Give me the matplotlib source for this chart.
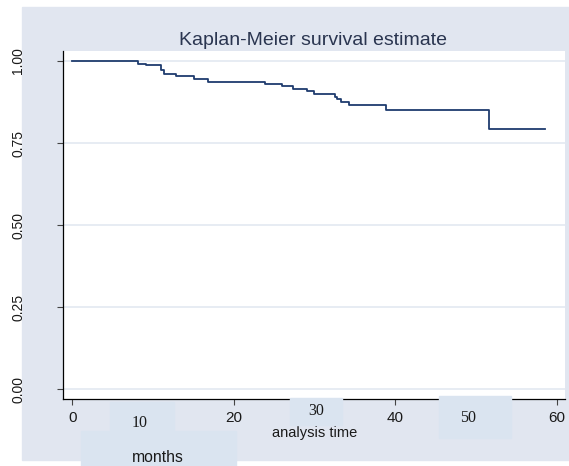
import matplotlib
matplotlib.use("Agg")
import matplotlib.pyplot as plt
from matplotlib.patches import Rectangle

# survival curve (step function)
times = [0, 8.2, 9.1, 11.0, 11.4, 12.9, 15.1, 16.8, 23.9, 26.0, 27.4, 29.1,
         30.0, 32.5, 32.8, 33.3, 34.3, 38.9, 51.6, 58.6]
surv = [1.0, 0.992, 0.987, 0.972, 0.961, 0.955, 0.946, 0.937, 0.931, 0.923,
        0.916, 0.909, 0.900, 0.891, 0.884, 0.876, 0.867, 0.850, 0.792, 0.792]

xticks = [0, 20, 40, 60]
yticks = [0.0, 0.25, 0.5, 0.75, 1.0]
ylabels = ["0.00", "0.25", "0.50", "0.75", "1.00"]

# extra labels pasted over the axis
box_labels = ["10", "30", "50"]
title = "Kaplan-Meier survival estimate"
xtitle = "analysis time"
unit_label = "months"

W, H = 569, 466
BG = "#e1e6f0"
BOX = "#dae4f0"
LINE = "#1f3c6e"

plt.rcParams["font.family"] = ["Liberation Sans", "DejaVu Sans"]

fig = plt.figure(figsize=(W / 100, H / 100), dpi=100)
fig.patch.set_facecolor("white")


def fx(px):
    return px / W


def fy(py):
    return 1 - py / H


# outer graph region
fig.patches.append(Rectangle((fx(22), fy(460)), fx(569) - fx(22), fy(7) - fy(460),
                             transform=fig.transFigure, color=BG, zorder=-5))

ax = fig.add_axes([fx(63), fy(399), fx(565) - fx(63), fy(51) - fy(399)])
ax.set_facecolor("white")
ax.step(times, surv, where="post", color=LINE, lw=1.3, zorder=3)

ax.set_xlim(-1.14, 61.03)
ax.set_ylim(-0.0295, 1.0305)
ax.set_xticks(xticks)
ax.set_yticks(yticks)
ax.set_yticklabels(ylabels, rotation=90, va="center")
ax.yaxis.grid(True, color="#e7ecf3", lw=1.4)
ax.set_axisbelow(True)
ax.tick_params(axis="x", length=4.3, width=0.8, color="#444444", pad=4.5,
               labelsize=11, labelcolor="#1a1a1a")
ax.tick_params(axis="y", length=4.3, width=0.8, color="#444444", pad=23,
               labelsize=10, labelcolor="#1a1a1a")
for s in ["top", "right"]:
    ax.spines[s].set_visible(False)
for s in ["left", "bottom"]:
    ax.spines[s].set_color("black")
    ax.spines[s].set_linewidth(0.9)

fig.text(fx(313), fy(45), title, ha="center", va="baseline", fontsize=14,
         color="#2a3550")
fig.text(fx(315), fy(437), xtitle, ha="center", va="baseline", fontsize=10.5,
         color="#1a1a1a")

# pasted boxes with labels
boxes = [(81, 431, 236, 466), (110, 402.5, 174, 431), (290, 398, 342, 425),
         (439, 396, 511, 438)]
for x0, y0, x1, y1 in boxes:
    fig.patches.append(Rectangle((fx(x0), fy(y1)), fx(x1) - fx(x0), fy(y0) - fy(y1),
                                 transform=fig.transFigure, color=BOX, zorder=5))

label_pos = [(140, 427.3), (316, 415), (468, 422.3)]
for lab, (px, py) in zip(box_labels, label_pos):
    fig.text(fx(px), fy(py), lab, ha="center", va="baseline", fontsize=11.5,
             family="Liberation Serif", color="#1a1a1a", zorder=6)
fig.text(fx(158), fy(461.5), unit_label, ha="center", va="baseline", fontsize=11.3,
         color="#1a1a1a", zorder=6)

fig.savefig("out.png", dpi=100)
